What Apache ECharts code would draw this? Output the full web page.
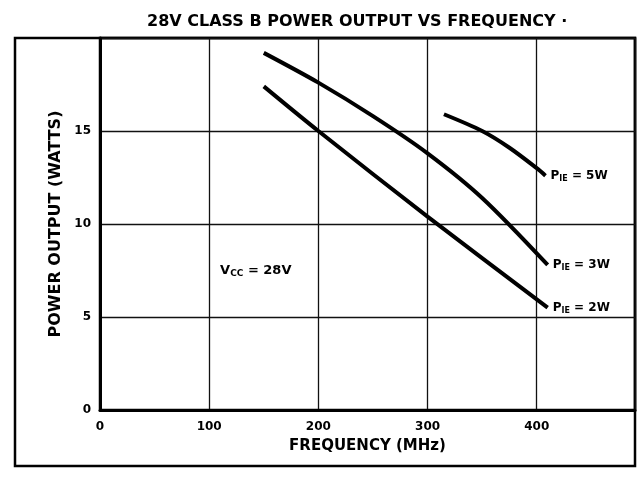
<!DOCTYPE html>
<html>
<head>
<meta charset="utf-8">
<title>28V Class B Power Output vs Frequency</title>
<script src="https://cdn.jsdelivr.net/npm/echarts@6/dist/echarts.min.js"></script>
<style>
  html,body{margin:0;padding:0;background:#fff;}
  #chart{width:641px;height:479px;}
</style>
</head>
<body>
<div id="chart"></div>
<script>
// tick labels
var freqTicks = [0, 100, 200, 300, 400];
var powerTicks = [0, 5, 10, 15];
// curves, [MHz, watts]
var pie2W = [[150, 17.4], [200, 15.0], [300, 10.4], [410, 5.5]];
var pie3W = [[150, 19.2], [200, 17.6], [250, 15.8], [300, 13.8], [350, 11.4], [410, 7.8]];
var pie5W = [[315, 15.9], [350, 15.0], [375, 14.1], [400, 13.0], [408, 12.6]];
var curveNames = ['2W', '3W', '5W'];
var vccNote = [110, 7.5];

var FONT = 'DejaVu Sans';
var chart = echarts.init(document.getElementById('chart'));

function curve(name, data) {
  return {
    name: name,
    type: 'line',
    data: data,
    smooth: 0.3,
    symbol: 'none',
    lineStyle: {color: '#000', width: 4},
    endLabel: {
      show: true,
      distance: 5,
      formatter: function (p) { return '{p|P}{s|IE}{t| = ' + p.seriesName + '}'; },
      rich: {
        p: {fontFamily: FONT, fontWeight: 'bold', fontSize: 12, color: '#000'},
        s: {fontFamily: FONT, fontWeight: 'bold', fontSize: 8, color: '#000', padding: [7, 0, 0, 0]},
        t: {fontFamily: FONT, fontWeight: 'bold', fontSize: 12, color: '#000'}
      }
    }
  };
}

chart.setOption({
  animation: false,
  backgroundColor: '#fff',
  title: {
    text: '28V CLASS B POWER OUTPUT VS FREQUENCY \u00b7',
    left: 147,
    top: 14,
    padding: 0,
    textStyle: {fontFamily: FONT, fontWeight: 'bold', fontSize: 16, color: '#000'}
  },
  grid: {
    left: 100, right: 6, top: 38, bottom: 69,
    show: true, borderColor: '#000', borderWidth: 2.5,
    outerBoundsMode: 'none'
  },
  xAxis: {
    type: 'value',
    min: 0, max: 490, interval: 100,
    name: 'FREQUENCY (MHz)',
    nameLocation: 'middle',
    nameGap: 29,
    nameTextStyle: {fontFamily: FONT, fontWeight: 'bold', fontSize: 15, color: '#000'},
    axisLine: {show: true, lineStyle: {color: '#000', width: 3}},
    axisTick: {show: false},
    axisLabel: {
      margin: 11, showMaxLabel: false,
      fontFamily: FONT, fontWeight: 'bold', fontSize: 12, color: '#000',
      formatter: function (v) { return freqTicks.indexOf(v) >= 0 ? String(v) : ''; }
    },
    splitLine: {show: true, lineStyle: {color: '#111', width: 1.3}}
  },
  yAxis: {
    type: 'value',
    min: 0, max: 20, interval: 5,
    name: 'POWER OUTPUT (WATTS)',
    nameLocation: 'middle',
    nameGap: 31,
    nameTextStyle: {fontFamily: FONT, fontWeight: 'bold', fontSize: 16, color: '#000'},
    axisLine: {show: true, lineStyle: {color: '#000', width: 3}},
    axisTick: {show: false},
    axisLabel: {
      margin: 9,
      fontFamily: FONT, fontWeight: 'bold', fontSize: 12, color: '#000',
      formatter: function (v) { return powerTicks.indexOf(v) >= 0 ? String(v) : ''; }
    },
    splitLine: {show: true, lineStyle: {color: '#111', width: 1.3}}
  },
  series: [
    curve(curveNames[0], pie2W),
    curve(curveNames[1], pie3W),
    curve(curveNames[2], pie5W)
  ],
  graphic: [{
    id: 'frame',
    type: 'rect',
    silent: true,
    shape: {x: 15, y: 38, width: 620, height: 428},
    style: {fill: 'none', stroke: '#000', lineWidth: 2.5}
  }]
});

// Vcc note anchored in data coordinates
var pt = chart.convertToPixel({gridIndex: 0}, vccNote);
chart.setOption({
  graphic: [{
    id: 'vcc',
    type: 'text',
    silent: true,
    x: pt[0], y: pt[1],
    style: {
      text: '{v|V}{s|CC}{t| = 28V}',
      verticalAlign: 'middle',
      rich: {
        v: {fontFamily: FONT, fontWeight: 'bold', fontSize: 13, fill: '#000'},
        s: {fontFamily: FONT, fontWeight: 'bold', fontSize: 9, fill: '#000', padding: [7, 0, 0, 0]},
        t: {fontFamily: FONT, fontWeight: 'bold', fontSize: 13, fill: '#000'}
      }
    }
  }]
});
</script>
</body>
</html>
